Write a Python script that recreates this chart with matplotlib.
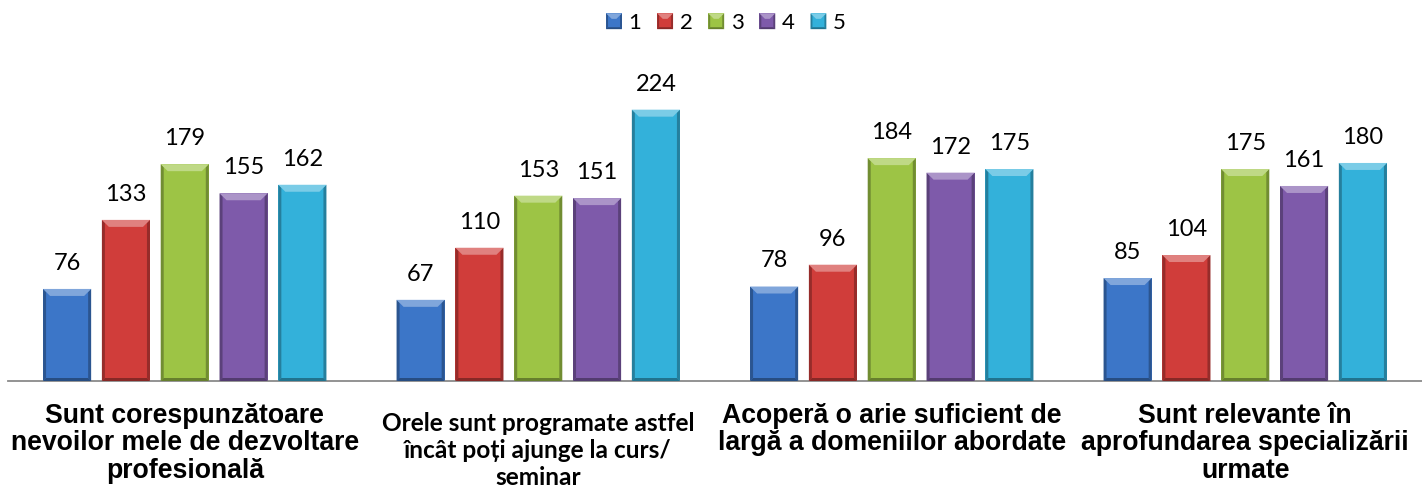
import matplotlib
matplotlib.use("Agg")
import matplotlib.pyplot as plt
import numpy as np
from matplotlib.patches import Polygon, Rectangle
from matplotlib.legend_handler import HandlerBase
from matplotlib.colors import to_rgb

# ---------------- data ----------------
categories = [
    "Sunt corespunzătoare\nnevoilor mele de dezvoltare\nprofesională",
    "Orele sunt programate astfel\nîncât poți ajunge la curs/\nseminar",
    "Acoperă o arie suficient de\nlargă a domeniilor abordate",
    "Sunt relevante în\naprofundarea specializării\nurmate",
]
series_names = ["1", "2", "3", "4", "5"]
values_1 = [76, 67, 78, 85]
values_2 = [133, 110, 96, 104]
values_3 = [179, 153, 184, 175]
values_4 = [155, 151, 172, 161]
values_5 = [162, 224, 175, 180]

# ---------------- style ----------------
colors = ["#3C76C8", "#D03D3A", "#9DC445", "#7E5AAA", "#33B1DA"]
label_fonts = ["Liberation Sans", "Lato", "Liberation Sans", "Liberation Sans"]
label_sizes = [19.2, 17.6, 19.2, 19.2]
label_spacing = [1.09, 1.2, 1.09, 1.09]
label_offsets = [-15.5, -22.5, -15.5, -15.5]


def mix(c, other, t):
    c = np.array(to_rgb(c))
    o = np.array(to_rgb(other))
    return tuple(c * (1 - t) + o * t)


W, H = 1422, 488
fig = plt.figure(figsize=(W / 100, H / 100), dpi=100)
fig.patch.set_facecolor("white")
ax = fig.add_axes([8 / W, (H - 381) / H, (W - 8) / W, 321 / H])

x = np.arange(len(categories))
step = 0.1664
bw = 0.136
all_vals = [values_1, values_2, values_3, values_4, values_5]

ax.set_xlim(-0.5, len(categories) - 0.5)
ax.set_ylim(0, 265)

containers = []
for i, (vals, c) in enumerate(zip(all_vals, colors)):
    bars = ax.bar(x + (i - 2) * step, vals, bw, color=c, label=series_names[i],
                  zorder=2, linewidth=0)
    containers.append(bars)


def add_bevel(ax, rect, color):
    x0, y0 = rect.get_x(), rect.get_y()
    x1, y1 = x0 + rect.get_width(), y0 + rect.get_height()
    (px0, py0), (px1, py1) = ax.transData.transform([(x0, y0), (x1, y1)])
    b = 7.0
    s = 3.0
    inv = ax.transData.inverted()

    def poly(pts, fc):
        d = inv.transform(pts)
        ax.add_patch(Polygon(d, closed=True, facecolor=fc, edgecolor="none", zorder=3))

    poly([(px0, py0), (px0 + s, py0 + s), (px0 + s, py1 - s), (px0, py1)], mix(color, "black", 0.28))
    poly([(px1, py0), (px1 - s, py0 + s), (px1 - s, py1 - s), (px1, py1)], mix(color, "black", 0.28))
    poly([(px0, py0), (px1, py0), (px1 - s, py0 + s), (px0 + s, py0 + s)], mix(color, "black", 0.35))
    poly([(px0, py1), (px1, py1), (px1 - b, py1 - b), (px0 + b, py1 - b)], mix(color, "white", 0.35))


for bars, c in zip(containers, colors):
    for r in bars:
        add_bevel(ax, r, c)
    for r, v in zip(bars, bars.datavalues):
        ax.annotate(f"{v:g}", xy=(r.get_x() + r.get_width() / 2, r.get_height()),
                    xytext=(0, 13.7), textcoords="offset points",
                    ha="center", va="baseline", fontsize=17,
                    fontfamily=["Lato", "DejaVu Sans"], color="black")

for side in ["top", "left", "right"]:
    ax.spines[side].set_visible(False)
ax.spines["bottom"].set_color("#8A8A8A")
ax.spines["bottom"].set_linewidth(1.3)
ax.set_xticks([])
ax.set_yticks([])
ax.patch.set_alpha(0)

for xi, lab, fnt, fs, ls, off in zip(x, categories, label_fonts, label_sizes,
                                     label_spacing, label_offsets):
    ax.annotate(lab, xy=(xi, 0), xycoords=ax.get_xaxis_transform(),
                xytext=(0, off), textcoords="offset points",
                ha="center", va="top", multialignment="center",
                fontsize=fs, fontweight="bold", fontfamily=[fnt, "DejaVu Sans"],
                linespacing=ls, annotation_clip=False)


class BevelHandler(HandlerBase):
    def create_artists(self, legend, orig_handle, xdescent, ydescent,
                       width, height, fontsize, trans):
        c = orig_handle.get_facecolor()
        side = min(width, height)
        x0 = -xdescent + (width - side) / 2
        y0 = -ydescent + (height - side) / 2
        x1, y1 = x0 + side, y0 + side
        b = side * 0.35
        s = side * 0.12
        arts = [Rectangle((x0, y0), side, side, facecolor=c, edgecolor="none", transform=trans)]
        arts.append(Polygon([(x0, y0), (x0 + s, y0 + s), (x0 + s, y1 - s), (x0, y1)],
                            facecolor=mix(c, "black", 0.28), edgecolor="none", transform=trans))
        arts.append(Polygon([(x1, y0), (x1 - s, y0 + s), (x1 - s, y1 - s), (x1, y1)],
                            facecolor=mix(c, "black", 0.28), edgecolor="none", transform=trans))
        arts.append(Polygon([(x0, y0), (x1, y0), (x1 - s, y0 + s), (x0 + s, y0 + s)],
                            facecolor=mix(c, "black", 0.35), edgecolor="none", transform=trans))
        arts.append(Polygon([(x0, y1), (x1, y1), (x1 - b, y1 - b), (x0 + b, y1 - b)],
                            facecolor=mix(c, "white", 0.35), edgecolor="none", transform=trans))
        return arts


handles = [Rectangle((0, 0), 1, 1, facecolor=c) for c in colors]
fig.legend(handles, series_names, loc="center", bbox_to_anchor=(726 / W, 1 - 23 / H),
           ncol=5, frameon=False, prop={"family": ["Lato", "DejaVu Sans"], "size": 16},
           handlelength=0.72, handleheight=0.72, handletextpad=0.3,
           columnspacing=0.7, borderpad=0,
           handler_map={Rectangle: BevelHandler()})

fig.savefig("out.png", dpi=100, facecolor="white")
